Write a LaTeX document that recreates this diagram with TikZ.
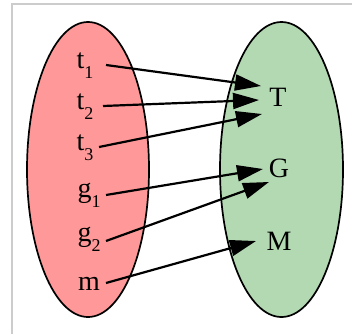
\documentclass[tikz,border=0pt]{standalone}
\usepackage{fontspec}
\setmainfont{Liberation Serif}
\usetikzlibrary{arrows.meta}
\definecolor{setred}{RGB}{255,153,153}
\definecolor{setgreen}{RGB}{179,217,179}
\newcommand{\lowsub}[1]{\raisebox{-0.36em}{\fontsize{18}{18}\selectfont #1}}
\begin{document}
\begin{tikzpicture}[x=1pt,y=-1pt,font=\fontsize{28}{28}\selectfont,
  lbl/.style={inner sep=0pt,anchor=base},
  arr/.style={line width=2.2pt,-{Triangle[length=26pt,width=16pt]}}]
\useasboundingbox (0,0) rectangle (352,334);
\draw[line width=1.5pt,black!20] (12,334) -- (12,4) -- (352,4);
% the two sets
\draw[line width=1.7pt,fill=setred] (88,169.5) ellipse [x radius=61, y radius=147.5];
\draw[line width=1.7pt,fill=setgreen] (281.5,169.5) ellipse [x radius=61.5, y radius=147.5];
\foreach \nm/\txt/\px/\py in {t1/t\lowsub{1}/85/68, t2/t\lowsub{2}/85/109, t3/t\lowsub{3}/85/150,
    g1/g\lowsub{1}/89/197, g2/g\lowsub{2}/89/241, m/m/89/290,
    T/T/278/106, G/G/279/177, M/M/279/250}
  \node[lbl] (\nm) at (\px,\py) {\txt};
% the mapping
\foreach \a/\b/\ax/\ay/\bx/\by in {t1/T/21/3/-17/20, t2/T/18/3/-19/6, t3/T/14/3/-16/-8,
    g1/G/17/2/-16/8, g2/G/17/0/-10/-5, m/M/17/7/-23/9}
  \draw[arr] ([shift={(\ax pt,\ay pt)}]\a.base) -- ([shift={(\bx pt,\by pt)}]\b.base);
\end{tikzpicture}
\end{document}
